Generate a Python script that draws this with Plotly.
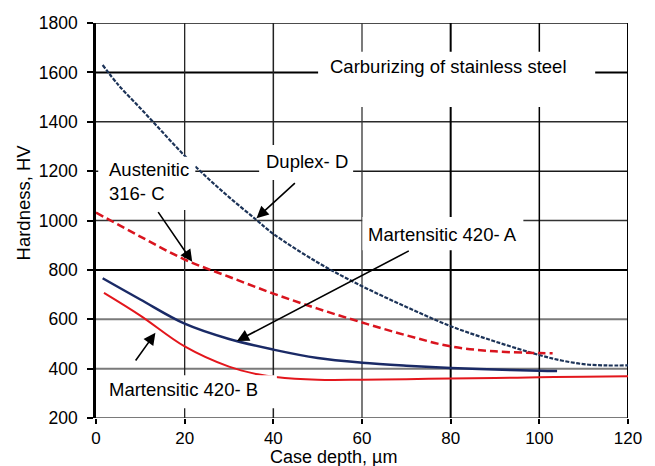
import plotly.graph_objects as go

# ---- data ----
duplex_x = [1.5, 5, 10, 15, 20, 25, 30, 36, 40, 50, 60, 70, 80, 90, 100, 105, 110, 115, 120]
duplex_y = [1630, 1550, 1455, 1358, 1262, 1175, 1095, 1005, 946, 830, 734, 650, 572, 510, 455, 433, 418, 413, 413]

aust_x = [0, 10, 20, 30, 40, 50, 60, 70, 80, 90, 100, 103]
aust_y = [1032, 935, 842, 772, 704, 643, 587, 535, 490, 470, 463, 462]

martA_x = [1.5, 10, 20, 30, 40, 50, 60, 70, 80, 90, 100, 104]
martA_y = [766, 680, 582, 520, 477, 443, 424, 412, 403, 396, 391, 390]

martB_x = [1.8, 10, 20, 30, 36.5, 40.5, 50, 60, 70, 80, 90, 100, 110, 121]
martB_y = [707, 615, 490, 408, 377, 366, 355, 355, 357, 360, 362, 365, 367, 369]

x_ticks = [0, 20, 40, 60, 80, 100, 120]
y_ticks = [200, 400, 600, 800, 1000, 1200, 1400, 1600, 1800]

FONT = "Liberation Sans, Arial, sans-serif"

fig = go.Figure()
fig.add_trace(go.Scatter(x=duplex_x, y=duplex_y, mode="lines", line=dict(color="#1c3358", width=2.2, dash="4px,1.5px", shape="spline"), showlegend=False))
fig.add_trace(go.Scatter(x=aust_x, y=aust_y, mode="lines", line=dict(color="#d9141e", width=2.5, dash="8px,4px", shape="spline"), showlegend=False))
fig.add_trace(go.Scatter(x=martA_x, y=martA_y, mode="lines", line=dict(color="#1a2a66", width=2.5, shape="spline"), showlegend=False))
fig.add_trace(go.Scatter(x=martB_x, y=martB_y, mode="lines", line=dict(color="#e3161c", width=2, shape="spline"), showlegend=False))

shapes = []
# horizontal grid lines
h_colors = {200: "#7a7a7a", 400: "#7a7a7a", 600: "#7a7a7a", 800: "#000000", 1000: "#333333",
            1200: "#1a1a1a", 1400: "#2a2a2a", 1600: "#000000", 1800: "#111111"}
h_widths = {200: 2, 400: 2, 600: 2, 800: 2, 1000: 1.3, 1200: 1.5, 1400: 1.3, 1600: 2, 1800: 1.5}
for yv in y_ticks:
    shapes.append(dict(type="line", xref="x", yref="y", x0=0, x1=120, y0=yv, y1=yv,
                       line=dict(color=h_colors[yv], width=h_widths[yv]), layer="below"))
v_colors = {20: "#222222", 40: "#222222", 60: "#333333", 80: "#000000", 100: "#000000", 120: "#000000"}
v_widths = {20: 1.3, 40: 1.5, 60: 1.3, 80: 2, 100: 1.5, 120: 2}
for xv in x_ticks[1:]:
    shapes.append(dict(type="line", xref="x", yref="y", x0=xv, x1=xv, y0=200, y1=1800,
                       line=dict(color=v_colors[xv], width=v_widths[xv]), layer="below"))

# white label boxes (cover grid and curves)
boxes = [
    (50.1, 112.6, 1460, 1684),   # Carburizing
    (36.8, 58.0, 1164, 1306),    # Duplex
    (0.5, 22.4, 1043, 1258),     # Austenitic
    (60.1, 96.4, 880, 1014),     # Martensitic A
    (1.0, 40.8, 239, 373),       # Martensitic B
]
for x0, x1, y0, y1 in boxes:
    shapes.append(dict(type="rect", xref="x", yref="y", x0=x0, x1=x1, y0=y0, y1=y1,
                       fillcolor="white", line=dict(width=0), layer="above"))

ann = []
lab_font = dict(family=FONT, size=18.5, color="black")
ann.append(dict(x=79.5, y=1624, xref="x", yref="y", text="Carburizing of stainless steel", showarrow=False, font=lab_font))
ann.append(dict(x=47.6, y=1237, xref="x", yref="y", text="Duplex- D", showarrow=False, font=lab_font))
ann.append(dict(x=2.4, y=1156, xref="x", yref="y", text="Austenitic<br>316- C", showarrow=False, font=lab_font,
                xanchor="left", align="left"))
ann.append(dict(x=78.2, y=945, xref="x", yref="y", text="Martensitic 420- A", showarrow=False, font=lab_font))
ann.append(dict(x=2.4, y=315, xref="x", yref="y", text="Martensitic 420- B", showarrow=False, font=lab_font,
                xanchor="left"))

arrows = [
    ((45.2, 1157), (36.2, 1009)),
    ((13.8, 1040), (21.7, 833)),
    ((70.9, 880), (31.8, 512)),
    ((8.7, 427), (13.4, 545)),
]
for (tx, ty), (hx, hy) in arrows:
    ann.append(dict(x=hx, y=hy, ax=tx, ay=ty, xref="x", yref="y", axref="x", ayref="y", text="",
                    showarrow=True, arrowhead=2, arrowsize=1.5, arrowwidth=1.6, arrowcolor="black", standoff=0))

ann.append(dict(x=-0.137, y=0.546, xref="paper", yref="paper", text="Hardness, HV", textangle=-90,
                xanchor="center", yanchor="middle",
                showarrow=False, font=dict(family=FONT, size=18.5, color="black")))
ann.append(dict(x=0.447, y=-0.099, xref="paper", yref="paper", text="Case depth, µm",
                xanchor="center", yanchor="middle",
                showarrow=False, font=dict(family=FONT, size=18, color="black")))

# page body has an 8px margin, so the figure is sized to fit the 655x466 window
fig.update_layout(
    width=647, height=458,
    margin=dict(l=88, r=27, t=15, b=48, autoexpand=False),
    paper_bgcolor="white", plot_bgcolor="white",
    shapes=shapes, annotations=ann,
    xaxis=dict(range=[0, 120], tickvals=x_ticks, showgrid=False, zeroline=False, showline=False,
               automargin=False,
               ticks="outside", ticklen=5, tickwidth=1.5, tickcolor="black",
               tickfont=dict(family=FONT, size=17, color="black"), ticklabelstandoff=0),
    yaxis=dict(range=[200, 1800], tickvals=y_ticks, showgrid=False, zeroline=False,
               automargin=False,
               showline=True, linecolor="black", linewidth=2.5,
               ticks="outside", ticklen=6, tickwidth=1.5, tickcolor="black",
               tickfont=dict(family=FONT, size=17.5, color="black"), ticklabelstandoff=6),
)

fig.write_html("out.html")
